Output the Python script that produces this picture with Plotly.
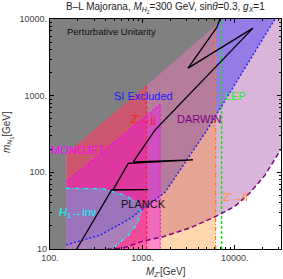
import numpy as np
import plotly.graph_objects as go

# ---------------- data ----------------
# perturbative unitarity boundary (upper limit of m_N1 vs M_Z')
unit_mz = [150, 260, 1070, 7450]
unit_mn = [175, 306, 1306, 10000]

# lowest M_Z' of the scanned region
mz_min = 150

# DARWIN projected sensitivity (lower boundary of excluded region)
darwin_mz = [340, 620, 1020, 1630, 3270, 6400, 10000, 14600, 21200, 31600]
darwin_mn = [9.7, 10.3, 12.7, 14.3, 18.8, 27, 36, 54, 92, 200]

# spin-independent direct detection exclusion (lower boundary)
si_mz = [150, 350, 735, 1760, 5000, 27200]
si_mn = [11.3, 15.2, 25, 55, 356, 10000]

# Z' -> jj dijet limit on M_Z'
zjj_mz = 1110
# Z' -> ll dilepton limit on M_Z'
zll_mz = 6200
# LEP limit on M_Z'/g_X
lep_mz = 7200

# monojet excluded region boundary
mono_mz = [150, 1560, 1560]
mono_mn = [75, 770, 10]

# H1 -> invisible boundary
inv_mz = [150, 375, 620, 875, 965, 875, 700, 470]
inv_mn = [62, 61, 51, 41, 30, 21, 15, 10]

# PLANCK relic density contour
planck_mz = [194.5, 465, 1150, 484, 703, 3530, 797, 1368, 15740, 3115, 6412, 6920]
planck_mn = [10, 58.8, 59.4, 60, 131, 145, 137, 356, 7600, 2290, 7840, 10000]

# axis ticks
x_ticks = [100, 1000, 10000]
x_ticktext = ["100.", "1000.", "10000."]
y_ticks = [10, 100, 1000, 10000]
y_ticktext = ["10", "100.", "1000.", "10000."]

LO, HI = 8, 20000   # beyond the visible range, for closing polygons


def unit_at(mz):
    return 10 ** np.interp(np.log10(mz), np.log10(unit_mz), np.log10(unit_mn))


fig = go.Figure()


def poly(xs, ys, color):
    fig.add_trace(go.Scatter(x=list(xs) + [xs[0]], y=list(ys) + [ys[0]], mode="lines",
                             fill="toself", fillcolor=color, line=dict(width=0),
                             hoverinfo="skip"))


def line(xs, ys, color, dash, width=1.2):
    fig.add_trace(go.Scatter(x=xs, y=ys, mode="lines",
                             line=dict(color=color, dash=dash, width=width),
                             hoverinfo="skip"))


# DARWIN region
poly([mz_min] + darwin_mz + [40000, 40000, mz_min],
     [LO] + darwin_mn + [300, HI, HI], "rgba(128,0,128,0.29)")
# SI excluded region
poly(si_mz + [si_mz[-1], mz_min], si_mn + [HI, HI], "rgba(0,0,255,0.32)")
# Z' -> ll region
poly([mz_min, zll_mz, zll_mz, mz_min], [LO, LO, HI, HI], "rgba(255,128,0,0.32)")
# Z' -> jj region
poly([mz_min, zjj_mz, zjj_mz, mz_min], [LO, LO, HI, HI], "rgba(255,0,0,0.30)")
# monojet region
poly([mz_min] + mono_mz, [LO] + mono_mn[:2] + [LO], "rgba(255,0,255,0.35)")
# H1 -> inv region
poly(inv_mz + [inv_mz[-1], mz_min], inv_mn + [LO, LO], "rgba(0,255,255,0.30)")
# perturbative unitarity (grey)
poly([80, mz_min] + unit_mz + [unit_mz[-1], 80],
     [LO, LO] + unit_mn + [HI, HI], "#808080")

# boundaries
line([zjj_mz, zjj_mz], [10, unit_at(zjj_mz)], "#ff2020", "3px,2px")
line(mono_mz, mono_mn, "#ff00ff", "2px,2px")
line([zll_mz, zll_mz], [10, unit_at(zll_mz)], "#ff8000", "4px,2px,1px,2px")
line([lep_mz, lep_mz], [10, 10000], "#00ee00", "3px,2px", 1.4)
line(si_mz, si_mn, "#2020ff", "2px,2px", 1.4)
line(darwin_mz, darwin_mn, "#800080", "5px,3px", 1.5)
line(inv_mz, inv_mn, "#00ffff", "4px,2px,1px,2px", 1.3)

# PLANCK curve
fig.add_trace(go.Scatter(x=planck_mz, y=planck_mn, mode="lines",
                         line=dict(color="black", width=1.3), hoverinfo="skip"))

minor_x = [m * 10 ** k for k in (2, 3, 4) for m in range(2, 10)]
minor_y = [m * 10 ** k for k in (1, 2, 3) for m in range(2, 10)]

axis_common = dict(showline=True, linecolor="black", linewidth=1.4, mirror="ticks",
                   ticks="inside", ticklen=4, tickcolor="black", tickwidth=1,
                   showgrid=False, zeroline=False, type="log",
                   tickfont=dict(size=9, color="#444"))

fig.update_xaxes(range=[2, 4.5], tickvals=x_ticks, ticktext=x_ticktext,
                 minor=dict(ticks="inside", ticklen=2, tickcolor="black", tickvals=minor_x),
                 **axis_common)
fig.update_yaxes(range=[1, 4], tickvals=y_ticks, ticktext=y_ticktext,
                 minor=dict(ticks="inside", ticklen=2, tickcolor="black", tickvals=minor_y),
                 **axis_common)

W, H = 283, 279
L, R, T, B = 50, 2, 19, 30
PW, PH = W - L - R, H - T - B


def px(x, y):
    return (x - L) / PW, (H - B - y) / PH


def label(text, x, y, color, size=11, angle=0):
    xp, yp = px(x, y)
    fig.add_annotation(x=xp, y=yp, xref="paper", yref="paper", text=text,
                       showarrow=False, font=dict(size=size, color=color),
                       xanchor="center", yanchor="middle", textangle=angle)


label("B–L Majorana, <i>M</i><sub><i>H</i><sub>2</sub></sub>=300 GeV, sin<i>θ</i>=0.3, <i>g</i><sub><i>X</i></sub>=1",
      165.5, 8, "#222", 10)
label("<i>M</i><sub><i>Z'</i></sub>[GeV]", 166, 272, "#333", 10)
label("<i>m</i><sub><i>N</i><sub>1</sub></sub>[GeV]", 8, 132, "#333", 10, -90)

label("Perturbative Unitarity", 111, 31, "#111", 9.5)
label("SI Excluded", 143, 96, "#1a1aff")
label("LEP", 235.5, 96, "#22ee22")
label("Z'→jj", 143, 119, "#ff1a1a")
label("DARWIN", 199, 119, "#800080")
label("MONOJET", 78, 150, "#ff00ff")
label("<i>H</i><sub>1</sub>→inv", 77.5, 213, "#00ffff")
label("PLANCK", 143.5, 204, "#111")
label("Z'→ll", 235, 197, "#ff9020")

fig.update_layout(width=W, height=H, margin=dict(l=L, r=R, t=T, b=B),
                  paper_bgcolor="white", plot_bgcolor="white", showlegend=False,
                  font=dict(family="Liberation Sans, Arial, sans-serif", size=9, color="#444"))

fig.write_html("out.html", config={"displayModeBar": False},
               post_script="document.body.style.margin='0';document.body.style.overflow='hidden';")
